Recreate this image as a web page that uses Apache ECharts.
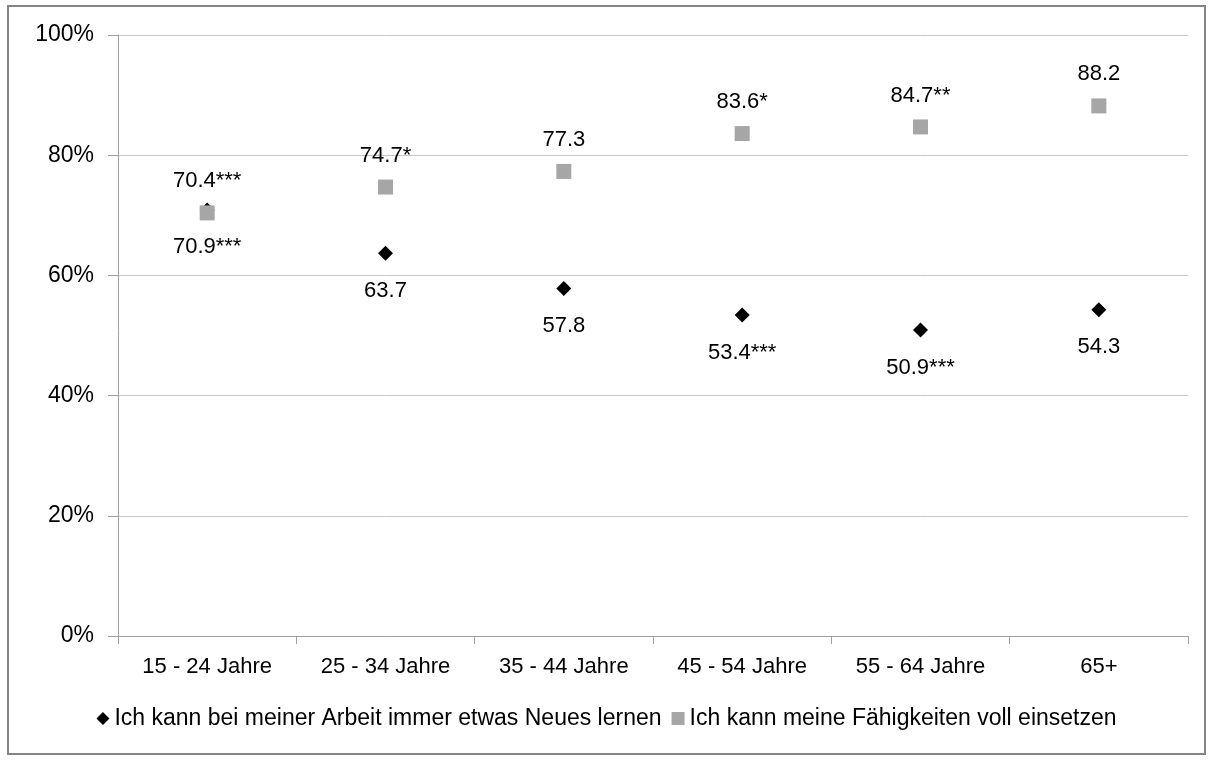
<!DOCTYPE html>
<html><head><meta charset="utf-8">
<script src="https://cdn.jsdelivr.net/npm/echarts@6/dist/echarts.min.js"></script>
<style>html,body{margin:0;padding:0;background:#fff}#c{width:1213px;height:760px}</style>
</head><body><div id="c"></div>
<script>
const categories = ['15 - 24 Jahre','25 - 34 Jahre','35 - 44 Jahre','45 - 54 Jahre','55 - 64 Jahre','65+'];
const seriesNames = ['Ich kann bei meiner Arbeit immer etwas Neues lernen','Ich kann meine Fähigkeiten voll einsetzen'];
const lernen = [70.9, 63.7, 57.8, 53.4, 50.9, 54.3];
const lernenSig = ['***','','','***','***',''];
const faehig = [70.4, 74.7, 77.3, 83.6, 84.7, 88.2];
const faehigSig = ['***','*','','*','**',''];
const yTicks = [0,20,40,60,80,100];

const FONT = '"Liberation Sans",Arial,sans-serif';
const chart = echarts.init(document.getElementById('c'), null, {renderer:'canvas'});
chart.setOption({
  animation:false,
  backgroundColor:'#fff',
  textStyle:{fontFamily:FONT},
  graphic:[{type:'rect', shape:{x:8,y:6,width:1197,height:748}, style:{fill:'none', stroke:'#858585', lineWidth:2}, silent:true}],
  grid:{left:118, right:25, top:35, bottom:124},
  legend:{
    bottom:25, left:'center', itemGap:10, itemWidth:13, itemHeight:13,
    textStyle:{fontFamily:FONT, fontSize:23, color:'#000'},
    data:[{name:seriesNames[0], icon:'diamond'},{name:seriesNames[1], icon:'rect'}]
  },
  xAxis:{
    type:'category', data:categories, boundaryGap:true,
    axisLine:{lineStyle:{color:'#a0a0a0', width:1}},
    axisTick:{show:true, length:8, lineStyle:{color:'#a0a0a0'}},
    axisLabel:{fontFamily:FONT, fontSize:22, color:'#000', margin:20},
    splitLine:{show:false}
  },
  yAxis:{
    type:'value', min:0, max:100, interval:20,
    axisLine:{show:true, lineStyle:{color:'#a0a0a0'}},
    axisTick:{show:true, inside:false, length:10, lineStyle:{color:'#a0a0a0'}},
    axisLabel:{fontFamily:FONT, fontSize:23, color:'#000', margin:24, formatter:v=>yTicks.includes(v)?v+'%':''},
    splitLine:{lineStyle:{color:'#c4c4c4', width:1}}
  },
  series:[
    {
      name:seriesNames[0], type:'scatter', symbol:'diamond', symbolSize:15,
      itemStyle:{color:'#000', opacity:1},
      data:lernen,
      label:{show:true, position:'bottom', distance:19, fontFamily:FONT, fontSize:22, color:'#000',
        formatter:p=>p.value.toFixed(1)+lernenSig[p.dataIndex]},
      z:2
    },
    {
      name:seriesNames[1], type:'scatter', symbol:'rect', symbolSize:15,
      itemStyle:{color:'#a6a6a6', opacity:1},
      data:faehig,
      label:{show:true, position:'top', distance:13, fontFamily:FONT, fontSize:22, color:'#000',
        formatter:p=>p.value.toFixed(1)+faehigSig[p.dataIndex]},
      z:3
    }
  ]
});
</script></body></html>
